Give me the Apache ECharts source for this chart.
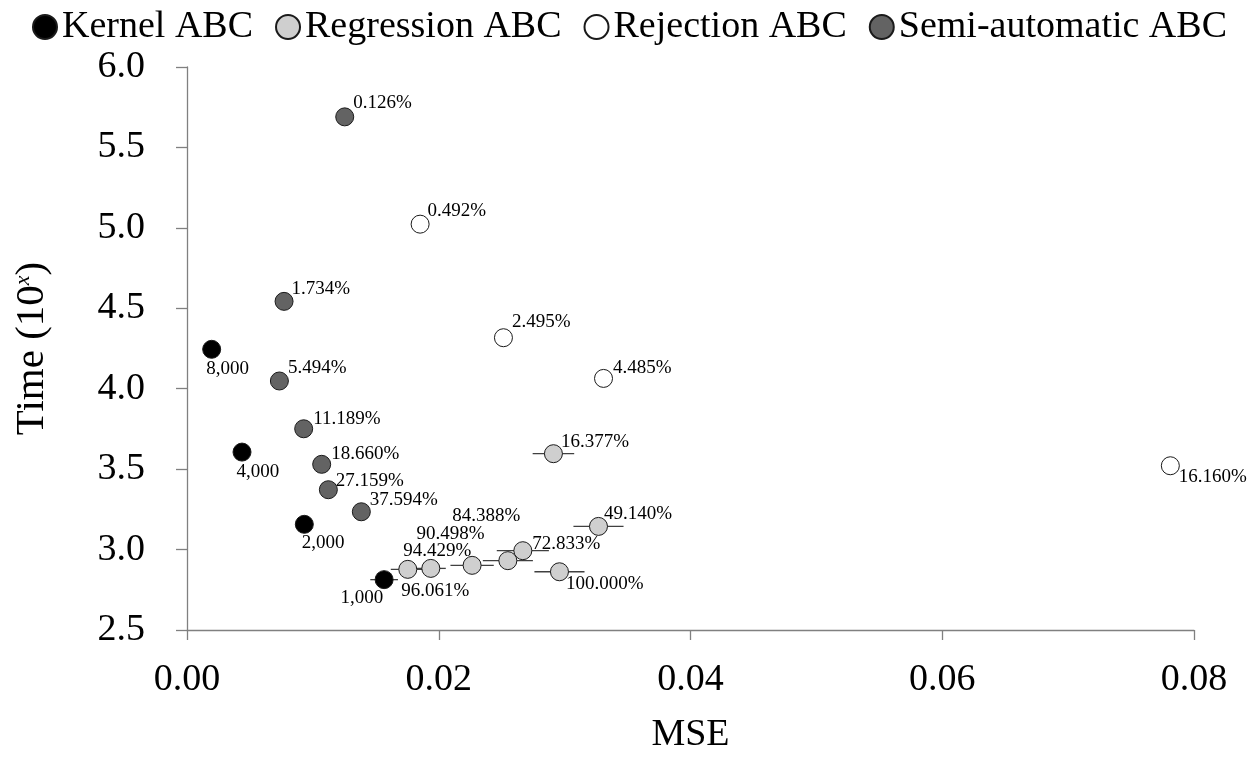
<!DOCTYPE html>
<html>
<head>
<meta charset="utf-8">
<script src="https://cdn.jsdelivr.net/npm/echarts@6/dist/echarts.min.js"></script>
<style>
html,body{margin:0;padding:0;background:#fff;}
#chart{width:1259px;height:759px;}
</style>
</head>
<body>
<div id="chart"></div>
<script>
// ---- Data ----
const seriesNames = ['Kernel ABC', 'Regression ABC', 'Rejection ABC', 'Semi-automatic ABC'];

const kernelMSE   = [0.00196, 0.00437, 0.00932, 0.01566];
const kernelTime  = [4.245, 3.606, 3.157, 2.813];
const kernelErr   = [0, 0, 0, 0.0011];
const kernelLabel = ['8,000', '4,000', '2,000', '1,000'];

const regMSE   = [0.02911, 0.03269, 0.02959, 0.02668, 0.02549, 0.02265, 0.01937, 0.01754];
const regTime  = [3.596, 3.144, 2.862, 2.993, 2.931, 2.902, 2.883, 2.877];
const regErr   = [0.00165, 0.00199, 0.00199, 0.00207, 0.00199, 0.00172, 0.00119, 0.00135];
const regLabel = ['16.377%', '49.140%', '100.000%', '72.833%', '84.388%', '90.498%', '94.429%', '96.061%'];

const rejMSE   = [0.01852, 0.02514, 0.03309, 0.07812];
const rejTime  = [5.023, 4.317, 4.064, 3.521];
const rejErr   = [0, 0, 0, 0.00025];
const rejLabel = ['0.492%', '2.495%', '4.485%', '16.160%'];

const semiMSE   = [0.01253, 0.00771, 0.00734, 0.00927, 0.01070, 0.01123, 0.01385];
const semiTime  = [5.690, 4.543, 4.048, 3.751, 3.530, 3.372, 3.235];
const semiErr   = [0, 0, 0, 0, 0, 0, 0];
const semiLabel = ['0.126%', '1.734%', '5.494%', '11.189%', '18.660%', '27.159%', '37.594%'];

const xTicks = [0, 0.02, 0.04, 0.06, 0.08];
const yTicks = [2.5, 3.0, 3.5, 4.0, 4.5, 5.0, 5.5, 6.0];

// ---- Styling (label placement relative to each marker, px) ----
const kernelLabelOff = [[-5, 20], [-5, 20], [-2, 19], [-43, 19]];
const regLabelOff    = [[8, -11], [6, -12], [7, 13], [10, -6], [-55, -44], [-55, -31], [-27, -17], [-6, 22]];
const rejLabelOff    = [[8, -13], [9, -15], [10, -10], [9, 12]];
const semiLabelOff   = [[9, -13], [8, -12], [9, -12], [10, -9], [10, -10], [8, -8], [9, -11]];

const FONT = '"Liberation Serif", "Times New Roman", serif';
const SYM = 18;
const colors = ['#000000', '#cfcfcf', '#ffffff', '#636363'];

function buildScatter(name, xs, ys, labels, offs, color) {
  return {
    name: name,
    type: 'scatter',
    symbol: 'circle',
    symbolSize: SYM,
    z: 5,
    itemStyle: { color: color, borderColor: '#1a1a1a', borderWidth: 1, opacity: 1 },
    data: xs.map((x, i) => ({
      value: [x, ys[i]],
      label: {
        show: true,
        formatter: labels[i],
        position: [SYM / 2 + offs[i][0], SYM / 2 + offs[i][1]],
        align: 'left',
        verticalAlign: 'middle'
      }
    })),
    label: { color: '#000', fontSize: 19, fontFamily: FONT },
    emphasis: { disabled: true }
  };
}

function buildErr(xs, ys, errs) {
  return {
    type: 'custom',
    z: 2,
    silent: true,
    encode: { x: 0, y: 1 },
    data: xs.map((x, i) => [x, ys[i], errs[i]]),
    renderItem: function (params, api) {
      const x = api.value(0), y = api.value(1), e = api.value(2);
      if (!e) return null;
      const p1 = api.coord([x - e, y]);
      const p2 = api.coord([x + e, y]);
      return {
        type: 'line',
        shape: { x1: p1[0], y1: p1[1], x2: p2[0], y2: p2[1] },
        style: { stroke: '#404040', lineWidth: 1.3 }
      };
    }
  };
}

const chart = echarts.init(document.getElementById('chart'), null, { renderer: 'canvas' });

const option = {
  backgroundColor: '#ffffff',
  animation: false,
  color: colors,
  legend: {
    data: seriesNames,
    top: 3,
    left: 'center',
    icon: 'circle',
    itemWidth: 24,
    itemHeight: 24,
    itemGap: 22,
    textStyle: { fontSize: 38, fontFamily: FONT, color: '#000' }
  },
  grid: { left: 187, right: 65, top: 67, bottom: 129, containLabel: false },
  xAxis: {
    type: 'value',
    min: xTicks[0],
    max: xTicks[xTicks.length - 1],
    interval: xTicks[1] - xTicks[0],
    name: 'MSE',
    nameLocation: 'middle',
    nameGap: 86,
    nameTextStyle: { fontSize: 38, fontFamily: FONT, color: '#000' },
    axisLine: { show: true, lineStyle: { color: '#808080', width: 1.3 } },
    axisTick: { show: true, length: 10, lineStyle: { color: '#808080', width: 1.3 } },
    axisLabel: { fontSize: 38, fontFamily: FONT, color: '#000', margin: 31, formatter: v => v.toFixed(2) },
    splitLine: { show: false }
  },
  yAxis: {
    type: 'value',
    min: yTicks[0],
    max: yTicks[yTicks.length - 1],
    interval: yTicks[1] - yTicks[0],
    name: 'Time (10{sup|x})',
    nameLocation: 'middle',
    nameRotate: 90,
    nameGap: 134,
    nameTextStyle: {
      fontSize: 41, fontFamily: FONT, color: '#000',
      rich: {
        sup: { fontSize: 22, fontStyle: 'italic', fontFamily: FONT, color: '#000', verticalAlign: 'top', padding: [0, 0, 14, 0] }
      }
    },
    axisLine: { show: true, lineStyle: { color: '#808080', width: 1.3 } },
    axisTick: { show: true, length: 11, lineStyle: { color: '#808080', width: 1.3 } },
    axisLabel: { fontSize: 38, fontFamily: FONT, color: '#000', margin: 42, formatter: v => v.toFixed(1) },
    splitLine: { show: false }
  },
  series: [
    buildErr(kernelMSE, kernelTime, kernelErr),
    buildErr(regMSE, regTime, regErr),
    buildErr(rejMSE, rejTime, rejErr),
    buildErr(semiMSE, semiTime, semiErr),
    buildScatter(seriesNames[0], kernelMSE, kernelTime, kernelLabel, kernelLabelOff, colors[0]),
    buildScatter(seriesNames[1], regMSE, regTime, regLabel, regLabelOff, colors[1]),
    buildScatter(seriesNames[2], rejMSE, rejTime, rejLabel, rejLabelOff, colors[2]),
    buildScatter(seriesNames[3], semiMSE, semiTime, semiLabel, semiLabelOff, colors[3])
  ]
};

chart.setOption(option);
</script>
</body>
</html>
